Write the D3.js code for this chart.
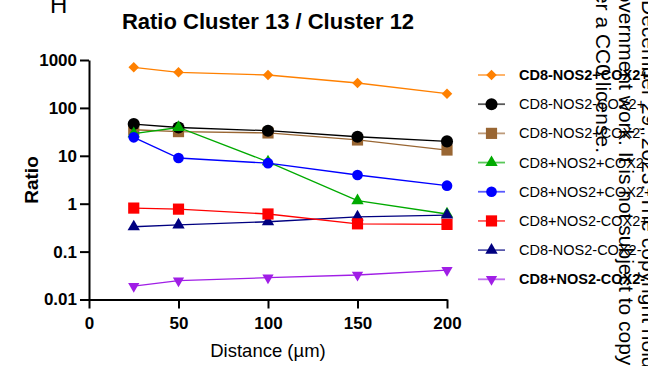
<!DOCTYPE html>
<html>
<head>
<meta charset="utf-8">
<script src="https://cdn.jsdelivr.net/npm/d3@7"></script>
<style>
  body { margin: 0; background: #fff; }
  text { font-family: "Liberation Sans", Arial, sans-serif; fill: #000; }
</style>
</head>
<body>
<svg id="chart" width="648" height="366"></svg>
<script>
/* values (ratio cluster 13 / cluster 12, log scale) */
var distances = [25, 50, 100, 150, 200];
var xTicks = [0, 50, 100, 150, 200];
var yTicks = [0.01, 0.1, 1, 10, 100, 1000];
var yTickLabels = ["0.01", "0.1", "1", "10", "100", "1000"];

var seriesNames = ["CD8-NOS2+COX2+", "CD8-NOS2-COX2+", "CD8-NOS2+COX2-", "CD8+NOS2+COX2-",
                   "CD8+NOS2+COX2+", "CD8+NOS2-COX2+", "CD8-NOS2-COX2-", "CD8+NOS2-COX2-"];
var cd8nNos2pCox2p = [705, 553, 486, 331, 198];
var cd8nNos2nCox2p = [46, 39, 33.4, 25, 20];
var cd8nNos2pCox2n = [35, 32, 30, 21.4, 13.2];
var cd8pNos2pCox2n = [29, 39, 7.5, 1.16, 0.61];
var cd8pNos2pCox2p = [24.3, 9.0, 7.0, 3.97, 2.38];
var cd8pNos2nCox2p = [0.81, 0.77, 0.61, 0.38, 0.37];
var cd8nNos2nCox2n = [0.33, 0.36, 0.42, 0.53, 0.58];
var cd8pNos2nCox2n = [0.019, 0.0247, 0.0285, 0.0325, 0.041];

var seriesValues = [cd8nNos2pCox2p, cd8nNos2nCox2p, cd8nNos2pCox2n, cd8pNos2pCox2n,
                    cd8pNos2pCox2p, cd8pNos2nCox2p, cd8nNos2nCox2n, cd8pNos2nCox2n];

// styles for each series, same order as the names
var colors = ["#ff8000", "#000000", "#996633", "#00aa00", "#0000ff", "#ff0000", "#000080", "#a01ee6"];
var shapes = ["diamond", "circle", "square", "triangle", "circleSmall", "square", "triangle", "triangleDown"];
var boldLegend = [true, false, false, false, false, false, false, true];

var svg = d3.select("#chart");
svg.append("rect").attr("width", 648).attr("height", 366).attr("fill", "#fff");

var x = d3.scaleLinear().domain([0, 200]).range([89, 447]);
var y = d3.scaleLog().domain([0.01, 1000]).range([299.5, 60]);

function symbolPath(shape) {
  if (shape == "diamond") return d3.symbol().type(d3.symbolSquare).size(56)();
  if (shape == "circle") return d3.symbol().type(d3.symbolCircle).size(115)();
  if (shape == "circleSmall") return d3.symbol().type(d3.symbolCircle).size(90)();
  if (shape == "square") return d3.symbol().type(d3.symbolSquare).size(125)();
  if (shape == "triangleDown") return d3.symbol().type(d3.symbolTriangle).size(55)();
  return d3.symbol().type(d3.symbolTriangle).size(66)();
}
function symbolRotate(shape) {
  if (shape == "diamond") return " rotate(45)";
  if (shape == "triangleDown") return " rotate(180)";
  return "";
}

// panel letter, partly cut at the top
svg.append("text")
  .attr("x", 50).attr("y", 12.5)
  .style("font-size", "24px")
  .text("H");

svg.append("text")
  .attr("x", 268).attr("y", 29)
  .attr("text-anchor", "middle")
  .style("font-size", "22px")
  .style("font-weight", "bold")
  .text("Ratio Cluster 13 / Cluster 12");

// axes
var yAxis = svg.append("g")
  .attr("transform", "translate(89,0)")
  .call(d3.axisLeft(y).tickValues(yTicks)
    .tickFormat(function(d, i) { return yTickLabels[i]; })
    .tickSize(9).tickSizeOuter(0).tickPadding(3));

var xAxis = svg.append("g")
  .attr("transform", "translate(0,299.5)")
  .call(d3.axisBottom(x).tickValues(xTicks)
    .tickSize(9).tickSizeOuter(0).tickPadding(8));

[yAxis, xAxis].forEach(function(ax) {
  ax.selectAll("path, line").attr("stroke", "#000").attr("stroke-width", 2);
  ax.selectAll("text")
    .style("font-size", "17px")
    .style("font-weight", "bold")
    .style("font-family", "\"Liberation Sans\", Arial, sans-serif")
    .attr("fill", "#000");
});

svg.append("text")
  .attr("transform", "translate(38,180) rotate(-90)")
  .attr("text-anchor", "middle")
  .style("font-size", "19px")
  .style("font-weight", "bold")
  .text("Ratio");

svg.append("text")
  .attr("x", 268).attr("y", 356.5)
  .attr("text-anchor", "middle")
  .style("font-size", "18.5px")
  .text("Distance (\u00b5m)");

// lines and markers
var line = d3.line()
  .x(function(d) { return x(d.dist); })
  .y(function(d) { return y(d.val); });

var drawOrder = [2, 1, 3, 4, 6, 5, 7, 0];
drawOrder.forEach(function(s) {
  var pts = distances.map(function(dist, i) { return {dist: dist, val: seriesValues[s][i]}; });
  svg.append("path")
    .datum(pts)
    .attr("fill", "none")
    .attr("stroke", colors[s])
    .attr("stroke-width", 1.3)
    .attr("d", line);
  svg.selectAll(null)
    .data(pts)
    .enter().append("path")
    .attr("d", symbolPath(shapes[s]))
    .attr("fill", colors[s])
    .attr("transform", function(d) { return "translate(" + x(d.dist) + "," + y(d.val) + ")" + symbolRotate(shapes[s]); });
});

// legend
var legendY = d3.scaleLinear().domain([0, 7]).range([75, 279.3]);
seriesNames.forEach(function(name, i) {
  var g = svg.append("g").attr("transform", "translate(0," + legendY(i) + ")");
  g.append("line")
    .attr("x1", 478).attr("x2", 505)
    .attr("stroke", colors[i])
    .attr("stroke-opacity", 0.65)
    .attr("stroke-width", 1.8);
  g.append("path")
    .attr("d", symbolPath(shapes[i]))
    .attr("fill", colors[i])
    .attr("transform", "translate(491.5,0)" + symbolRotate(shapes[i]));
  g.append("text")
    .attr("x", 519).attr("y", 5)
    .style("font-size", "14.5px")
    .style("font-weight", boldLegend[i] ? "bold" : "normal")
    .text(name);
});

// preprint watermark running down the right edge
var watermark = [
  {text: "available under a CC0 license.", x: 596, y: 153, anchor: "end"},
  {text: "government work. It is not subject to copyright in the US.", x: 619, y: -21, anchor: "start"},
  {text: "December 29, 2023. The copyright holder for this preprint", x: 642, y: 0, anchor: "start"}
];
watermark.forEach(function(w) {
  svg.append("text")
    .attr("transform", "translate(" + w.x + "," + w.y + ") rotate(90)")
    .attr("text-anchor", w.anchor)
    .style("font-size", "21px")
    .text(w.text);
});
</script>
</body>
</html>
